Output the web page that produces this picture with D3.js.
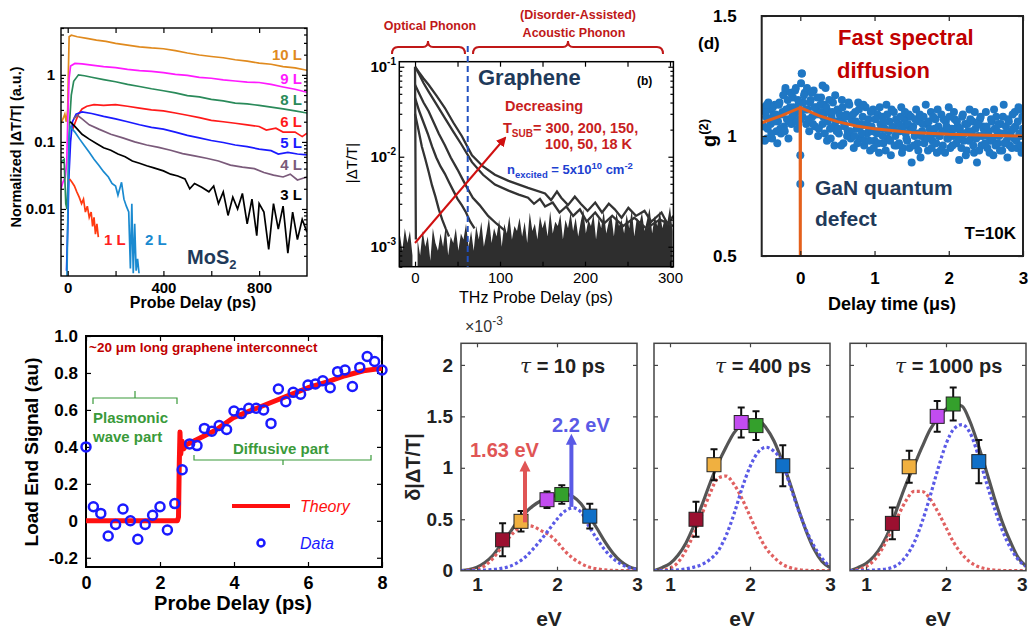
<!DOCTYPE html>
<html lang="en">
<head>
<meta charset="UTF-8">
<title>Carrier dynamics panels</title>
<script src="https://d3js.org/d3.v7.min.js"></script>
<style>
  body { margin: 0; background: #fff; }
  svg { display: block; }
</style>
</head>
<body>
<script>
const FONT = '"Liberation Sans", Arial, Helvetica, sans-serif';

// ---------- panel A : MoS2 normalized |dT/T| vs probe delay (ps) ----------
const mosLabels = ['10 L', '9 L', '8 L', '6 L', '5 L', '4 L', '3 L', '2 L', '1 L'];
const mos10L = [[-28,0.19],[-20,0.22],[-12,0.26],[-6,0.2],[0,0.3],[3,1.2],[6,3.7],[15,3.9],[40,3.7],[80,3.5],[120,3.3],[160,3.15],[200,2.95],[250,2.78],[300,2.62],[350,2.52],[400,2.45],[450,2.3],[500,2.12],[550,1.98],[600,1.88],[650,1.8],[700,1.68],[750,1.6],[800,1.5],[850,1.44],[900,1.33],[950,1.27],[1000,1.17]];
const mos9L = [[-28,0.02],[-20,0.025],[-10,0.03],[-4,0.05],[0,0.2],[6,0.9],[12,1.35],[30,1.48],[60,1.46],[100,1.4],[150,1.33],[200,1.28],[250,1.21],[300,1.16],[350,1.13],[400,1.08],[450,1.02],[500,0.98],[550,0.92],[600,0.89],[650,0.84],[700,0.81],[750,0.78],[800,0.77],[850,0.72],[900,0.66],[950,0.61],[1000,0.55]];
const mos8L = [[-28,0.05],[-15,0.055],[-8,0.012],[-3,0.01],[2,0.03],[8,0.2],[15,0.5],[25,0.8],[45,1.0],[70,0.97],[100,0.92],[150,0.85],[200,0.79],[250,0.72],[300,0.67],[350,0.62],[400,0.58],[450,0.54],[500,0.49],[550,0.47],[600,0.43],[650,0.41],[700,0.38],[750,0.37],[800,0.35],[850,0.33],[900,0.31],[950,0.29],[1000,0.27]];
const mos6L = [[20,0.15],[30,0.19],[45,0.26],[60,0.31],[80,0.34],[110,0.36],[150,0.35],[200,0.36],[250,0.34],[300,0.32],[350,0.3],[400,0.29],[450,0.27],[500,0.25],[550,0.23],[600,0.21],[650,0.2],[700,0.19],[750,0.18],[800,0.17],[830,0.15],[870,0.16],[900,0.14],[950,0.14],[980,0.12],[1000,0.135]];
const mos5L = [[-5,0.0012],[0,0.005],[5,0.03],[12,0.1],[20,0.2],[35,0.26],[60,0.28],[100,0.265],[150,0.24],[200,0.22],[250,0.2],[300,0.18],[350,0.165],[400,0.155],[450,0.14],[500,0.125],[550,0.115],[600,0.105],[650,0.098],[700,0.09],[750,0.085],[800,0.078],[850,0.074],[880,0.066],[920,0.07],[960,0.066],[1000,0.064]];
const mos4L = [[25,0.22],[40,0.25],[60,0.22],[90,0.18],[130,0.155],[180,0.13],[230,0.115],[280,0.1],[330,0.09],[380,0.083],[430,0.075],[480,0.067],[530,0.062],[580,0.057],[630,0.052],[680,0.045],[730,0.042],[780,0.04],[820,0.035],[860,0.032],[900,0.03],[930,0.033],[960,0.027],[1000,0.03]];
const mos3L = [[10,0.2],[30,0.17],[60,0.13],[90,0.11],[120,0.095],[150,0.082],[180,0.075],[210,0.066],[240,0.06],[270,0.052],[300,0.048],[330,0.044],[360,0.041],[400,0.037],[430,0.033],[460,0.031],[490,0.028],[510,0.02],[530,0.024],[560,0.021],[590,0.018],[610,0.022],[630,0.012],[650,0.018],[670,0.008],[690,0.015],[710,0.01],[730,0.017],[750,0.006],[770,0.014],[790,0.004],[800,0.012],[820,0.009],[840,0.0025],[860,0.012],[880,0.005],[900,0.011],[920,0.0022],[940,0.009],[960,0.0035],[980,0.007],[1000,0.0045]];
const mos2L = [[-3,0.001],[2,0.02],[6,0.12],[10,0.17],[30,0.14],[50,0.11],[70,0.088],[90,0.07],[110,0.055],[130,0.045],[150,0.036],[170,0.03],[185,0.024],[200,0.022],[210,0.016],[225,0.025],[235,0.014],[245,0.011],[255,0.009],[262,0.0013],[268,0.012],[274,0.0011],[280,0.006],[286,0.0012],[292,0.0018],[298,0.0011]];
const mos1L = [[8,0.028],[18,0.025],[28,0.022],[38,0.018],[48,0.015],[58,0.012],[66,0.014],[74,0.009],[82,0.011],[90,0.0075],[98,0.009],[104,0.0055],[110,0.0075],[116,0.0042],[122,0.006],[128,0.0038]];
const mosSeries = [mos10L, mos9L, mos8L, mos6L, mos5L, mos4L, mos3L, mos2L, mos1L];
const mosColors = ['#e08a1e', '#ff1aff', '#2a8a5a', '#ff1a1a', '#1a1aff', '#7a5a7a', '#000000', '#1a8ad0', '#ff3a10'];
const mosXTicks = [0, 200, 400, 600, 800];
const mosXLabels = [0, 400, 800];

// ---------- panel B : graphene |dT/T| vs THz probe delay (ps) ----------
const gr1 = [[0,0.1],[0.5,0.01],[1,0.0012]];
const gr2 = [[0,0.03],[4,0.02],[8,0.013],[12,0.0095],[16,0.0068],[20,0.0048],[24,0.0036],[28,0.0026],[32,0.002],[36,0.0016],[40,0.0013]];
const gr3 = [[0,0.045],[5,0.032],[10,0.024],[15,0.018],[20,0.013],[25,0.0098],[30,0.0078],[35,0.0065],[40,0.0052],[45,0.0042],[50,0.0034],[55,0.0029],[60,0.0024],[65,0.0019],[70,0.0016]];
const gr4 = [[0,0.063],[5,0.05],[10,0.04],[16,0.032],[22,0.024],[28,0.018],[35,0.0135],[42,0.0098],[50,0.0072],[56,0.0056],[62,0.0044],[68,0.0035],[76,0.0029],[86,0.0022],[96,0.0018],[106,0.0015]];
const gr5 = [[0,0.1],[5,0.082],[10,0.066],[16,0.053],[24,0.04],[35,0.027],[45,0.019],[55,0.0135],[67,0.0087],[80,0.0063],[94,0.0049],[110,0.0042],[122,0.0038],[133,0.0035],[140,0.003],[147,0.0034],[153,0.0028],[162,0.0031],[170,0.0024],[178,0.0028],[186,0.0022],[194,0.0026],[202,0.0019],[212,0.0024],[222,0.0018],[232,0.0022],[245,0.0017],[258,0.0021],[272,0.0016],[288,0.002],[304,0.0017]];
const gr6 = [[0,0.1],[5,0.086],[10,0.074],[16,0.063],[25,0.048],[35,0.035],[45,0.024],[55,0.017],[67,0.0104],[80,0.0078],[94,0.0063],[110,0.0054],[133,0.0045],[153,0.0039],[160,0.0033],[167,0.0041],[172,0.0035],[180,0.0029],[188,0.0036],[195,0.003],[203,0.0025],[212,0.0031],[220,0.0024],[228,0.003],[235,0.0026],[243,0.0021],[251,0.0027],[260,0.0022],[270,0.0025],[278,0.0019],[290,0.0024],[297,0.0018],[304,0.0022]];
const grSeries = [gr1, gr2, gr3, gr4, gr5, gr6];
// noise floor top edge (x1e-3), sampled every 3 ps from -18 ps
const grFloorStart = -18, grFloorStep = 3;
const grFloor = [1.4,0.9,1.6,1.1,1.5,0.8,1.3,
  1.2,0.8,1.5,1.0,1.3,0.7,1.6,1.1,0.9,1.4,1.0,1.7,0.8,1.3,1.1,1.6,0.9,1.4,1.2,1.8,
  1.0,1.5,0.9,1.7,1.2,1.9,1.0,1.4,2.1,1.1,1.6,1.3,2.0,1.0,1.8,1.4,2.2,1.2,1.7,1.5,
  2.1,1.3,1.9,1.1,2.4,1.5,1.8,1.2,2.2,1.6,2.0,1.3,2.5,1.4,1.9,1.7,2.3,1.2,2.0,1.6,
  2.4,1.5,2.1,1.3,1.9,2.6,1.4,2.0,1.7,2.3,1.2,2.1,1.6,2.5,1.4,1.9,2.2,1.3,2.4,1.7,
  2.0,1.4,2.3,1.6,2.6,1.3,2.1,1.8,2.4,1.5,2.0,2.7,1.4,2.2,1.7,2.5,1.6,2.1,1.9,2.8,1.5];
const grXTicks = [0, 50, 100, 150, 200, 250, 300];
const grXLabels = [0, 100, 200, 300];
const grYMajor = [0.001, 0.01, 0.1];
const grYLabels = ['-3', '-2', '-1'];

// ---------- panel D : g2 vs delay time (us) ----------
// two interleaved sample sets, 0.02 us apart, offset by 0.01 us
const g2Step = 0.02;
const g2StartA = -0.5;
const g2ValuesA = [
  1.12,0.98,1.08,1.03,1.11,1.05,0.99,1.09,1.13,1.02,
  1.06,1.14,1.01,1.10,1.04,1.19,1.07,0.99,1.12,1.05,
  1.16,1.09,1.20,1.03,1.13,1.07,1.26,1.14,1.18,1.05,
  1.11,1.02,1.15,1.08,1.19,1.04,1.12,1.00,1.09,1.16,
  1.05,1.13,1.20,0.98,1.10,1.03,1.08,1.14,0.96,1.06,
  1.11,1.01,1.07,1.15,0.97,1.04,1.09,1.02,1.13,0.99,
  1.06,0.95,1.10,1.03,1.14,0.99,1.05,1.08,0.96,1.12,
  1.01,1.07,0.94,1.04,1.11,0.98,1.02,1.09,0.93,1.05,
  1.08,0.97,1.03,1.13,0.99,1.06,0.92,1.04,1.10,1.00,
  0.96,1.05,1.02,1.12,0.95,1.07,1.01,0.98,1.09,1.03,
  0.89,1.04,1.00,1.11,0.97,1.06,0.91,1.02,1.08,0.99,
  1.05,0.94,1.03,1.10,0.98,1.01,1.07,0.93,1.04,1.00,
  1.09,0.96,1.02,1.06,0.99,1.12,0.95,1.03,1.00,1.07,
  0.97,1.04,0.90,1.01,1.08,0.98,1.05,0.94,1.02,1.11,
  0.99,1.06,0.93,1.03,0.89,1.00,1.07,0.96,1.04,1.01,
  1.10,0.95,1.02,0.98,1.06,0.92,1.03,1.08,0.97,1.00,
  1.05,0.94,1.13,1.01,0.98,1.07,0.96,1.02,1.09,0.99,
  1.04,0.95,1.12,1.00,0.93,1.03];
const g2StartB = -0.49;
const g2ValuesB = [
  1.04,1.10,0.99,1.14,1.07,1.01,1.12,1.06,1.09,0.97,
  1.13,1.03,1.09,1.17,1.02,1.11,1.15,1.06,1.18,1.08,
  1.12,1.19,1.06,1.15,1.10,1.22,1.08,1.17,1.11,1.20,
  1.07,1.14,1.18,1.05,1.12,1.09,1.16,1.03,1.13,1.10,
  1.08,1.01,1.12,1.06,1.15,0.99,1.10,1.04,1.17,1.02,
  1.03,1.09,0.96,1.12,1.05,1.08,1.00,1.14,1.02,1.07,
  1.09,1.00,1.06,0.97,1.11,1.04,1.01,1.13,0.98,1.05,
  1.04,0.98,1.10,1.02,0.95,1.07,1.01,0.97,1.12,1.03,
  1.00,1.06,0.94,1.09,1.02,0.98,1.11,1.03,0.96,1.07,
  1.02,0.97,1.08,0.93,1.04,1.10,0.99,1.05,0.95,1.08,
  1.03,0.96,1.07,1.01,0.94,1.09,1.00,1.05,0.97,1.13,
  0.99,1.06,1.01,0.95,1.08,1.03,0.97,1.11,1.00,0.94,
  1.02,1.07,0.93,1.04,0.99,1.08,1.01,0.96,1.10,1.03,
  1.06,0.99,1.03,0.95,1.09,1.01,0.92,1.05,0.98,1.07,
  1.02,0.96,1.10,0.99,1.05,0.94,1.08,1.00,1.03,0.97,
  1.04,1.00,0.93,1.07,0.99,1.11,0.96,1.02,1.05,0.94,
  1.01,1.08,0.97,1.04,0.91,1.06,1.00,0.95,1.03,1.10,
  0.98,1.06,1.01,0.96,1.08];
const g2Extra = [[0.0,0.92],[0.0,0.8],[0.02,1.26],[-0.2,1.2],[0.3,1.21],[-0.45,1.13],[2.95,1.11]];
const g2Fit = [[-0.52,1.055],[-0.25,1.085],[-0.003,1.118],[0,0.5],[0.003,1.118],[0.25,1.085],[0.5,1.06],[0.75,1.042],[1.0,1.03],[1.5,1.015],[2.0,1.007],[2.5,1.003],[3.0,1.0]];
const g2XTicks = [0, 1, 2, 3];
const g2YTicks = [0.5, 1, 1.5];

// ---------- panel E : load end signal vs probe delay (ps) ----------
const loadData = [[0,0.40],[0.2,0.076],[0.4,0.04],[0.6,-0.082],[0.8,-0.02],[1.0,0.064],[1.2,0.0],[1.4,-0.1],[1.6,-0.02],[1.8,0.03],[2.0,0.076],[2.2,-0.05],[2.4,0.093],[2.6,0.276],[2.8,0.416],[3.0,0.407],[3.2,0.5],[3.4,0.485],[3.6,0.516],[3.8,0.494],[4.0,0.594],[4.2,0.58],[4.4,0.609],[4.6,0.609],[4.8,0.6],[5.0,0.527],[5.2,0.713],[5.4,0.644],[5.6,0.695],[5.8,0.685],[6.0,0.735],[6.2,0.74],[6.4,0.758],[6.6,0.72],[6.8,0.807],[7.0,0.816],[7.2,0.727],[7.4,0.83],[7.6,0.889],[7.8,0.862],[8.0,0.816]];
const loadTheory = [[0,0],[2.47,0],[2.5,0.02],[2.52,0.3],[2.54,0.48],[2.56,0.36],[2.6,0.43],[2.65,0.39],[2.7,0.41],[3.0,0.44],[3.5,0.49],[4.0,0.56],[4.5,0.6],[5.0,0.64],[5.5,0.68],[6.0,0.72],[6.5,0.75],[7.0,0.785],[7.5,0.812],[8.0,0.825]];
const loadXTicks = [0, 2, 4, 6, 8];
const loadYTicks = [-0.2, 0, 0.2, 0.4, 0.6, 0.8, 1.0];
const loadYLabels = ['-0.2', '0', '0.2', '0.4', '0.6', '0.8', '1.0'];

// ---------- panel F : delta|dT/T| spectra (x1e-3) vs eV ----------
const eVgrid = [0.8,0.9,1.0,1.1,1.2,1.3,1.4,1.5,1.6,1.7,1.8,1.9,2.0,2.1,2.2,2.3,2.4,2.5,2.6,2.7,2.8,2.9,3.0];
const red10  = [0,0.005,0.015,0.05,0.12,0.22,0.32,0.40,0.44,0.43,0.39,0.35,0.28,0.19,0.12,0.07,0.035,0.018,0.008,0.003,0.001,0,0];
const blue10 = [0,0,0.002,0.006,0.012,0.022,0.04,0.075,0.13,0.21,0.30,0.40,0.50,0.58,0.61,0.57,0.43,0.31,0.2,0.12,0.065,0.03,0.012];
const tot10  = [0,0.01,0.035,0.08,0.15,0.25,0.36,0.47,0.56,0.63,0.68,0.71,0.735,0.745,0.72,0.65,0.53,0.41,0.28,0.17,0.09,0.04,0.015];
const red400  = [0,0.005,0.025,0.08,0.2,0.36,0.55,0.75,0.9,0.92,0.84,0.7,0.53,0.36,0.22,0.13,0.065,0.03,0.012,0.004,0.001,0,0];
const blue400 = [0,0,0.003,0.008,0.018,0.035,0.06,0.11,0.19,0.34,0.55,0.8,1.01,1.15,1.2,1.16,1.06,0.83,0.6,0.4,0.24,0.12,0.04];
const tot400  = [0,0.03,0.07,0.15,0.27,0.44,0.64,0.85,1.04,1.2,1.34,1.42,1.46,1.46,1.39,1.26,1.07,0.85,0.61,0.39,0.21,0.09,0.03];
const red1000  = [0,0.01,0.04,0.1,0.21,0.36,0.53,0.68,0.77,0.77,0.7,0.57,0.42,0.27,0.16,0.085,0.04,0.018,0.007,0.002,0,0,0];
const blue1000 = [0,0,0.002,0.006,0.012,0.025,0.06,0.14,0.27,0.47,0.72,0.99,1.23,1.38,1.42,1.34,1.13,0.87,0.62,0.4,0.23,0.11,0.04];
const tot1000  = [0,0.03,0.07,0.14,0.25,0.41,0.63,0.84,1.02,1.2,1.37,1.48,1.57,1.62,1.6,1.45,1.23,0.98,0.72,0.48,0.29,0.13,0.045];
// squares: [eV, value, error]
const pts10   = [[1.32,0.30,0.16],[1.55,0.48,0.10],[1.875,0.69,0.08],[2.06,0.74,0.09],[2.41,0.53,0.12]];
const pts400  = [[1.325,0.50,0.17],[1.55,1.03,0.15],[1.89,1.44,0.145],[2.075,1.41,0.14],[2.41,1.02,0.2]];
const pts1000 = [[1.33,0.46,0.155],[1.54,1.01,0.155],[1.89,1.5,0.15],[2.09,1.62,0.16],[2.41,1.06,0.21]];
const specTitles = ['10 ps', '400 ps', '1000 ps'];
const specYTicks = [0, 0.5, 1, 1.5, 2];
const specXTicks = [1, 2, 3];
const boxColors = ['#9b1030', '#f0b040', '#c24cf0', '#34a02c', '#1070c8'];

// ================= drawing =================
const svg = d3.select('body').append('svg').attr('width', 1029).attr('height', 633)
  .style('font-family', FONT);
svg.append('rect').attr('width', 1029).attr('height', 633).attr('fill', '#fff');
const defs = svg.append('defs');

function clipFor(id, x, y) {
  const [x0, x1] = x.range(), [y0, y1] = y.range();
  defs.append('clipPath').attr('id', id).append('rect')
    .attr('x', x0).attr('y', y1).attr('width', x1 - x0).attr('height', y0 - y1);
  return `url(#${id})`;
}

function frame(g, x, y, sw, col) {
  const [x0, x1] = x.range(), [y0, y1] = y.range();
  g.append('rect').attr('x', x0).attr('y', y1).attr('width', x1 - x0).attr('height', y0 - y1)
    .attr('fill', 'none').attr('stroke', col).attr('stroke-width', sw);
}

// one side of a boxed axis; ticks point inward
function side(g, scale, where, at, vals, len, fmt, pad, fs, fw, col) {
  const maker = {bottom: d3.axisBottom, top: d3.axisTop, left: d3.axisLeft, right: d3.axisRight}[where];
  const a = maker(scale).tickValues(vals).tickSizeInner(-len).tickSizeOuter(0)
    .tickPadding(pad || 4).tickFormat(fmt || (() => ''));
  const tr = (where === 'bottom' || where === 'top') ? `translate(0,${at})` : `translate(${at},0)`;
  const ax = g.append('g').attr('transform', tr).call(a);
  ax.select('.domain').remove();
  ax.selectAll('line').attr('stroke', col || '#000').attr('stroke-width', 1.2);
  ax.selectAll('text').attr('font-family', FONT).attr('font-size', fs || 15)
    .attr('font-weight', fw || 'bold').attr('fill', col || '#000');
  return ax;
}

function boxAxes(g, x, y, xt, yt, len, col) {
  const [x0, x1] = x.range(), [y0, y1] = y.range();
  side(g, x, 'bottom', y0, xt, len, null, 0, 0, 0, col);
  side(g, x, 'top', y1, xt, len, null, 0, 0, 0, col);
  side(g, y, 'left', x0, yt, len, null, 0, 0, 0, col);
  side(g, y, 'right', x1, yt, len, null, 0, 0, 0, col);
}

function txt(g, x, y, s, o) {
  o = o || {};
  return g.append('text').attr('x', x).attr('y', y).text(s)
    .attr('font-size', o.fs || 15).attr('font-weight', o.fw || 'bold')
    .attr('fill', o.fill || '#000').attr('text-anchor', o.anchor || 'start')
    .attr('font-style', o.style || 'normal');
}

// ---------------- panel A ----------------
{
  const x = d3.scaleLinear().domain([-28, 1000]).range([61, 307]);
  const y = d3.scaleLog().domain([0.001, 5]).range([276, 28]);
  const g = svg.append('g');
  const cp = clipFor('clipA', x, y);
  const line = d3.line().x(d => x(d[0])).y(d => y(d[1]));
  g.append('g').attr('clip-path', cp).selectAll('path').data(mosSeries).join('path')
    .attr('d', line).attr('fill', 'none').attr('stroke', (d, i) => mosColors[i]).attr('stroke-width', 1.7);
  frame(g, x, y, 1.4, '#000');
  const minors = y.ticks().filter(v => ![0.001, 0.01, 0.1, 1].some(m => Math.abs(m - v) < 1e-9));
  boxAxes(g, x, y, mosXTicks, [0.01, 0.1, 1], 5, '#000');
  side(g, y, 'left', 61, minors, 3); side(g, y, 'right', 307, minors, 3);
  side(g, x, 'bottom', 276, mosXLabels, 0, d => d, 6, 15);
  side(g, y, 'left', 61, [0.01, 0.1, 1], 0, d => ({'0.01': '0.01', '0.1': '0.1', '1': '1'})[String(d)], 6, 15);
  txt(g, 0, 0, 'Normalized |ΔT/T| (a.u.)', {fs: 14.5, anchor: 'middle'})
    .attr('transform', 'translate(21,147) rotate(-90)');
  txt(g, 193, 308, 'Probe Delay (ps)', {fs: 16, anchor: 'middle'});
  const labY = [60, 84, 105, 127, 148, 170, 200];
  labY.forEach((yy, i) => txt(g, 302, yy, mosLabels[i], {fs: 15, fill: mosColors[i], anchor: 'end'}));
  txt(g, 145, 245, '2 L', {fs: 15, fill: mosColors[7]});
  txt(g, 104, 245, '1 L', {fs: 15, fill: '#ff2020'});
  const mt = txt(g, 187, 264, 'MoS', {fs: 20, fill: '#1f3a5a'});
  mt.append('tspan').attr('dy', 5).attr('font-size', 13).text('2');
}

// ---------------- panel B ----------------
{
  const x = d3.scaleLinear().domain([-18.5, 304]).range([399.3, 673.4]);
  const y = d3.scaleLog().domain([Math.pow(10, -3.222), Math.pow(10, -0.944)]).range([266.7, 61.7]);
  const g = svg.append('g');
  const cp = clipFor('clipB', x, y);
  const inner = g.append('g').attr('clip-path', cp);
  const floorPts = grFloor.map((v, i) => [grFloorStart + grFloorStep * i, v * 1e-3]);
  const area = d3.area().defined(d => d[0] < -1 || d[0] > 2)
    .x(d => x(d[0])).y0(266.7).y1(d => y(d[1]));
  inner.append('path').attr('d', area(floorPts)).attr('fill', '#2e2e2e');
  const line = d3.line().x(d => x(d[0])).y(d => y(d[1]));
  inner.selectAll('.gr').data(grSeries).join('path').attr('class', 'gr')
    .attr('d', line).attr('fill', 'none').attr('stroke', '#333').attr('stroke-width', 2.3);
  frame(g, x, y, 1.5, '#000');
  const minors = y.ticks().filter(v => !grYMajor.some(m => Math.abs(m - v) < 1e-12));
  boxAxes(g, x, y, grXTicks, grYMajor, 5, '#000');
  side(g, y, 'left', 399.3, minors, 3); side(g, y, 'right', 673.4, minors, 3);
  side(g, x, 'bottom', 266.7, grXLabels, 0, d => d, 6, 15, 'normal');
  grYMajor.forEach((v, i) => {
    const t = txt(g, 396, y(v) + 5, '10', {fs: 15, anchor: 'end'});
    t.append('tspan').attr('dy', -7).attr('font-size', 10).text(grYLabels[i]);
  });
  txt(g, 0, 0, '|ΔT/T|', {fs: 15, fw: 'normal', anchor: 'middle'})
    .attr('transform', 'translate(357,163) rotate(-90)');
  txt(g, 536, 303, 'THz Probe Delay (ps)', {fs: 16, fw: 'normal', anchor: 'middle'});
  // phonon brackets
  const red = '#c01818';
  txt(g, 430, 30, 'Optical Phonon', {fs: 12.5, fill: red, anchor: 'middle'});
  txt(g, 578, 19, '(Disorder-Assisted)', {fs: 12.5, fill: red, anchor: 'middle'});
  txt(g, 574, 37, 'Acoustic Phonon', {fs: 12.5, fill: red, anchor: 'middle'});
  const brace = (a, m, b, yy) => `M${a},${yy + 7} Q${a},${yy} ${a + 6},${yy} L${m - 5},${yy} Q${m},${yy} ${m},${yy - 6} Q${m},${yy} ${m + 5},${yy} L${b - 6},${yy} Q${b},${yy} ${b},${yy + 7}`;
  g.append('path').attr('d', brace(392, 428, 465, 47)).attr('fill', 'none').attr('stroke', red).attr('stroke-width', 2);
  g.append('path').attr('d', brace(473, 568, 663, 47)).attr('fill', 'none').attr('stroke', red).attr('stroke-width', 2);
  g.append('line').attr('x1', x(62)).attr('x2', x(62)).attr('y1', 46).attr('y2', 266.7)
    .attr('stroke', '#2050c0').attr('stroke-width', 2).attr('stroke-dasharray', '6,4');
  txt(g, 478, 85, 'Graphene', {fs: 22, fill: '#1f3a5a'});
  txt(g, 637, 85, '(b)', {fs: 12});
  txt(g, 505, 111, 'Decreasing', {fs: 14.5, fill: '#c81e1e'});
  const ts = txt(g, 503, 133, 'T', {fs: 14.5, fill: '#c81e1e'});
  ts.append('tspan').attr('dy', 4).attr('font-size', 10).text('SUB');
  ts.append('tspan').attr('dy', -4).text('= 300, 200, 150,');
  txt(g, 545, 149, '100, 50, 18 K', {fs: 14.5, fill: '#c81e1e'});
  const ne = txt(g, 507, 174, 'n', {fs: 13, fill: '#2040d0'});
  ne.append('tspan').attr('dy', 4).attr('font-size', 9.5).text('excited');
  ne.append('tspan').attr('dy', -4).text(' = 5x10');
  ne.append('tspan').attr('dy', -5).attr('font-size', 9.5).text('10');
  ne.append('tspan').attr('dy', 5).text(' cm');
  ne.append('tspan').attr('dy', -5).attr('font-size', 9.5).text('-2');
  defs.append('marker').attr('id', 'arrB').attr('viewBox', '0 0 10 10').attr('refX', 8).attr('refY', 5)
    .attr('markerWidth', 5).attr('markerHeight', 5).attr('orient', 'auto')
    .append('path').attr('d', 'M0,0 L10,5 L0,10 z').attr('fill', '#d01010');
  g.append('line').attr('x1', 415).attr('y1', 243).attr('x2', 505).attr('y2', 138)
    .attr('stroke', '#d01010').attr('stroke-width', 2).attr('marker-end', 'url(#arrB)');
}

// ---------------- panel D ----------------
{
  const x = d3.scaleLinear().domain([-0.52, 3.0]).range([761.7, 1023]);
  const y = d3.scaleLinear().domain([0.5, 1.5]).range([256, 16]);
  const g = svg.append('g');
  const cp = clipFor('clipD', x, y);
  const inner = g.append('g').attr('clip-path', cp);
  const dots = g2ValuesA.map((v, i) => [g2StartA + g2Step * i, v])
    .concat(g2ValuesB.map((v, i) => [g2StartB + g2Step * i, v]))
    .concat(g2Extra);
  inner.selectAll('circle').data(dots).join('circle')
    .attr('cx', d => x(d[0])).attr('cy', d => y(d[1])).attr('r', 4).attr('fill', '#1f77c4');
  inner.append('path').attr('d', d3.line().x(d => x(d[0])).y(d => y(d[1]))(g2Fit))
    .attr('fill', 'none').attr('stroke', '#e4601c').attr('stroke-width', 3);
  frame(g, x, y, 2, '#222');
  boxAxes(g, x, y, g2XTicks, g2YTicks, 5, '#222');
  side(g, x, 'bottom', 256, g2XTicks, 0, d => d, 16, 17);
  side(g, y, 'left', 761.7, g2YTicks, 0, d => d, 25, 17);
  const gt = txt(g, 0, 0, 'g', {fs: 20, anchor: 'middle'}).attr('transform', 'translate(716,133) rotate(-90)');
  gt.append('tspan').attr('dy', -8).attr('font-size', 13).text('(2)');
  txt(g, 698, 49, '(d)', {fs: 17});
  txt(g, 892, 310, 'Delay time (μs)', {fs: 18, anchor: 'middle'});
  txt(g, 838, 45, 'Fast spectral', {fs: 22, fill: '#c00000'});
  txt(g, 837, 78, 'diffusion', {fs: 22, fill: '#c00000'});
  txt(g, 815, 195, 'GaN quantum', {fs: 21, fill: '#1f3a5a'});
  txt(g, 815, 226, 'defect', {fs: 21, fill: '#1f3a5a'});
  txt(g, 1016, 239, 'T=10K', {fs: 17, anchor: 'end'});
}

// ---------------- panel E ----------------
{
  const x = d3.scaleLinear().domain([0, 8]).range([86, 382]);
  const y = d3.scaleLinear().domain([-0.25, 1.0]).range([567, 336]);
  const g = svg.append('g');
  frame(g, x, y, 2, '#000');
  boxAxes(g, x, y, loadXTicks, loadYTicks, 5, '#000');
  side(g, x, 'bottom', 567, loadXTicks, 0, d => d, 9, 18);
  side(g, y, 'left', 86, loadYTicks, 0, (d, i) => loadYLabels[i], 8, 17);
  g.append('path').attr('d', d3.line().x(d => x(d[0])).y(d => y(d[1]))(loadTheory))
    .attr('fill', 'none').attr('stroke', '#ff1010').attr('stroke-width', 5).attr('stroke-linejoin', 'round');
  g.selectAll('.dat').data(loadData).join('circle').attr('class', 'dat')
    .attr('cx', d => x(d[0])).attr('cy', d => y(d[1])).attr('r', 4.5)
    .attr('fill', 'none').attr('stroke', '#1a1aff').attr('stroke-width', 2.5);
  txt(g, 0, 0, 'Load End Signal (au)', {fs: 19, anchor: 'middle'}).attr('transform', 'translate(38,452) rotate(-90)');
  txt(g, 233, 610, 'Probe Delay (ps)', {fs: 20, anchor: 'middle'});
  txt(g, 89, 352, '~20 μm long graphene interconnect', {fs: 13.5, fill: '#c00000'});
  const green = '#3a9a3a';
  txt(g, 93, 423, 'Plasmonic', {fs: 15, fill: green});
  txt(g, 93, 442, 'wave part', {fs: 15, fill: green});
  txt(g, 233, 454, 'Diffusive part', {fs: 15, fill: green});
  g.append('path').attr('d', 'M93,404 L93,398 L177,398 L177,404 M135,398 L135,391')
    .attr('fill', 'none').attr('stroke', green).attr('stroke-width', 1.2);
  g.append('path').attr('d', 'M194,455 L194,460 L371,460 L371,455 M283,460 L283,465')
    .attr('fill', 'none').attr('stroke', green).attr('stroke-width', 1.2);
  g.append('line').attr('x1', 232).attr('x2', 290).attr('y1', 506).attr('y2', 506)
    .attr('stroke', '#ff1010').attr('stroke-width', 4);
  txt(g, 300, 512, 'Theory', {fs: 16, fw: 'normal', style: 'italic', fill: '#ff1010'});
  g.append('circle').attr('cx', 261).attr('cy', 543).attr('r', 3.5).attr('fill', 'none')
    .attr('stroke', '#1a1aff').attr('stroke-width', 2.5);
  txt(g, 300, 549, 'Data', {fs: 16, fw: 'normal', style: 'italic', fill: '#1a1aff'});
}

// ---------------- panel F ----------------
{
  const lefts = [461, 654, 850];
  const tauX = [520, 715, 895];
  const reds = [red10, red400, red1000], blues = [blue10, blue400, blue1000], tots = [tot10, tot400, tot1000];
  const pts = [pts10, pts400, pts1000];
  const y = d3.scaleLinear().domain([0, 2.21]).range([570.7, 343.3]);
  lefts.forEach((L, k) => {
    const x = d3.scaleLinear().domain([0.8, 3.0]).range([L, L + 176]);
    const g = svg.append('g');
    const cp = clipFor('clipF' + k, x, y);
    const line = d3.line().x((d, i) => x(eVgrid[i])).y(d => y(d)).curve(d3.curveMonotoneX);
    const inner = g.append('g').attr('clip-path', cp);
    inner.append('path').attr('d', line(tots[k])).attr('fill', 'none').attr('stroke', '#555').attr('stroke-width', 3.2);
    inner.append('path').attr('d', line(reds[k])).attr('fill', 'none').attr('stroke', '#e06060')
      .attr('stroke-width', 3.2).attr('stroke-dasharray', '3,2.5');
    inner.append('path').attr('d', line(blues[k])).attr('fill', 'none').attr('stroke', '#5a5ae6')
      .attr('stroke-width', 3.2).attr('stroke-dasharray', '3,2.5');
    frame(g, x, y, 1.5, '#444');
    boxAxes(g, x, y, [1, 2], [0.5, 1, 1.5, 2], 4, '#444');
    const xl = side(g, x, 'bottom', 570.7, specXTicks, 0, d => d, 7, 19, 'bold', '#222');
    // last label of the right-most panel sits at the page edge
    if (k === 2) xl.selectAll('text').filter(d => d === 3).attr('text-anchor', 'end').attr('dx', 1);
    if (k === 0) side(g, y, 'left', L, specYTicks, 0, d => d, 8, 19, 'bold', '#222');
    txt(g, L + 88, 626, 'eV', {fs: 21, anchor: 'middle', fill: '#222'});
    const tt = txt(g, tauX[k], 373, '', {fs: 20, fill: '#222'});
    tt.append('tspan').attr('font-style', 'italic').attr('font-weight', 'normal').attr('font-family', '"DejaVu Serif", serif').text('τ');
    tt.append('tspan').text(' = ' + specTitles[k]);
    // error bars and squares
    const eb = g.selectAll('.eb').data(pts[k]).join('g').attr('class', 'eb');
    eb.append('path').attr('d', d => {
      const cx = x(d[0]), t = y(d[1] + d[2]), b = y(d[1] - d[2]);
      return `M${cx},${t} L${cx},${b} M${cx - 3.5},${t} L${cx + 3.5},${t} M${cx - 3.5},${b} L${cx + 3.5},${b}`;
    }).attr('stroke', '#111').attr('stroke-width', 2).attr('fill', 'none');
    eb.append('rect').attr('x', d => x(d[0]) - 7).attr('y', d => y(d[1]) - 7).attr('width', 14).attr('height', 14)
      .attr('fill', (d, i) => boxColors[i]).attr('stroke', '#222').attr('stroke-width', 1);
    if (k === 0) {
      const arrow = (ev, v0, v1, col) => {
        const ax = x(ev), y0 = y(v0), y1 = y(v1);
        g.append('line').attr('x1', ax).attr('x2', ax).attr('y1', y0).attr('y2', y1 + 10)
          .attr('stroke', col).attr('stroke-width', 4);
        g.append('path').attr('d', `M${ax - 5.5},${y1 + 11} L${ax},${y1} L${ax + 5.5},${y1 + 11} z`).attr('fill', col);
      };
      arrow(1.6, 0.47, 1.07, '#e05555');
      arrow(2.18, 0.62, 1.33, '#5a5ae6');
      txt(g, 470, 457, '1.63 eV', {fs: 20, fill: '#e05555'});
      txt(g, 552, 432, '2.2 eV', {fs: 20, fill: '#5a5ae6'});
      const ex = txt(g, 465, 332, '×10', {fs: 16, fw: 'normal', fill: '#333'});
      ex.append('tspan').attr('dy', -7).attr('font-size', 12).text('-3');
      txt(g, 0, 0, 'δ|ΔT/T|', {fs: 20, anchor: 'middle', fill: '#222'}).attr('transform', 'translate(420,467) rotate(-90)');
    }
  });
}
</script>
</body>
</html>
